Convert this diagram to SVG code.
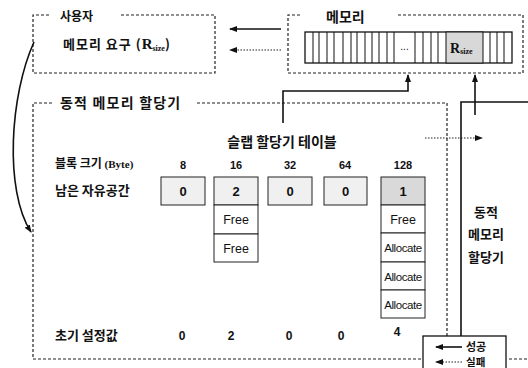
<svg xmlns="http://www.w3.org/2000/svg" width="528" height="368" viewBox="0 0 528 368">
<defs>
<marker id="ah" markerWidth="8" markerHeight="6" refX="7" refY="3" orient="auto" markerUnits="userSpaceOnUse"><path d="M0,0 L8,3 L0,6 Z" fill="#111"/></marker>
</defs>
<style>
.dash{fill:none;stroke:#222;stroke-width:1.2;stroke-dasharray:3 2}
.dot{fill:none;stroke:#222;stroke-width:1.2;stroke-dasharray:1.5 1.5}
.solid{fill:none;stroke:#111;stroke-width:1.6}
.ko{font-family:"Noto Sans CJK KR","Noto Sans",sans-serif;font-weight:bold;fill:#111}
.num{font-family:"Liberation Sans",Arial,sans-serif;fill:#111}
.ser{font-family:"Liberation Serif","Times New Roman",serif;font-weight:bold;fill:#111}
.cell{fill:#fff;stroke:#222;stroke-width:1}
.shade{fill:#f0f0f0;stroke:#222;stroke-width:1}
.dark{fill:#d9d9d9;stroke:#222;stroke-width:1}
.bar{stroke:#111;stroke-width:1}
</style>

<g id="user">
<path class="dash" d="M49,15 H33 V73 H215 V15 H120"/>
<text class="ko" x="60" y="21" font-size="12">사용자</text>
<text class="ko" x="63" y="49" font-size="13" letter-spacing="1">메모리 요구 (<tspan class="ser" font-size="15" letter-spacing="0">R</tspan><tspan class="ser" font-size="8" dy="2" letter-spacing="0">size</tspan><tspan dy="-2">)</tspan></text>
</g>

<g id="memory">
<path class="dash" d="M300,15 H288 V73 H523 V15 H397"/>
<text class="ko" x="326" y="22" font-size="14">메모리</text>
<rect x="305" y="32" width="207" height="31" fill="#fff" stroke="#111" stroke-width="1.3"/>
<rect x="446" y="32" width="37" height="31" fill="#d8d8d8" stroke="#111" stroke-width="1"/>
<g class="bar">
<line x1="313" y1="32" x2="313" y2="63"/><line x1="319" y1="32" x2="319" y2="63"/><line x1="327" y1="32" x2="327" y2="63"/><line x1="334" y1="32" x2="334" y2="63"/><line x1="343" y1="32" x2="343" y2="63"/><line x1="351" y1="32" x2="351" y2="63"/><line x1="357" y1="32" x2="357" y2="63"/><line x1="365" y1="32" x2="365" y2="63"/><line x1="372" y1="32" x2="372" y2="63"/><line x1="379" y1="32" x2="379" y2="63"/><line x1="387" y1="32" x2="387" y2="63"/><line x1="394" y1="32" x2="394" y2="63"/><line x1="415" y1="32" x2="415" y2="63"/><line x1="423" y1="32" x2="423" y2="63"/><line x1="431" y1="32" x2="431" y2="63"/><line x1="438" y1="32" x2="438" y2="63"/><line x1="490" y1="32" x2="490" y2="63"/><line x1="497" y1="32" x2="497" y2="63"/><line x1="504" y1="32" x2="504" y2="63"/>
</g>
<text class="num" x="404.5" y="50" font-size="10" text-anchor="middle">...</text>
<text class="ser" x="450" y="53" font-size="14">R<tspan font-size="8" dy="1">size</tspan></text>
</g>

<g id="allocator">
<path class="dash" d="M52,103 H33 V359 H424 M509,359 H530 M197,103 H447 V336"/>
<text class="ko" x="60" y="108" font-size="14" letter-spacing="1.2">동적 메모리 할당기</text>
</g>

<g id="slab-table">
<text class="ko" x="282" y="147" font-size="14" text-anchor="middle">슬랩 할당기 테이블</text>
<text class="ko" x="55" y="168" font-size="12">블록 크기 <tspan class="ser" font-size="11">(Byte)</tspan></text>
<text class="ko" x="55" y="195" font-size="13">남은 자유공간</text>
<text class="ko" x="55" y="340" font-size="13">초기 설정값</text>
<g class="num" font-size="11" text-anchor="middle" font-weight="bold">
<text x="183" y="169">8</text><text x="236" y="169">16</text><text x="290" y="169">32</text><text x="345" y="169">64</text><text x="403" y="169">128</text>
</g>
<rect class="shade" x="161" y="177" width="44" height="28"/>
<rect class="shade" x="214" y="177" width="44" height="28"/>
<rect class="cell" x="214" y="205" width="44" height="29"/>
<rect class="cell" x="214" y="234" width="44" height="28"/>
<rect class="shade" x="268" y="177" width="44" height="28"/>
<rect class="shade" x="324" y="177" width="43" height="28"/>
<rect class="dark" x="381" y="177" width="44" height="28"/>
<rect class="cell" x="381" y="205" width="44" height="28"/>
<rect class="cell" x="381" y="233" width="44" height="29"/>
<rect class="cell" x="381" y="262" width="44" height="28"/>
<rect class="cell" x="381" y="290" width="44" height="28"/>
<g class="num" font-size="13" text-anchor="middle" font-weight="bold">
<text x="183" y="196">0</text><text x="236" y="196">2</text><text x="290" y="196">0</text><text x="345.5" y="196">0</text><text x="403" y="196">1</text>
</g>
<g class="num" font-size="12.5" text-anchor="middle">
<text x="236" y="224">Free</text><text x="236" y="253">Free</text>
<text x="403" y="224">Free</text>
</g>
<g class="num" font-size="11.5" text-anchor="middle" letter-spacing="-0.4">
<text x="403" y="252">Allocate</text><text x="403" y="281">Allocate</text><text x="403" y="309">Allocate</text>
</g>
<g class="num" font-size="12" text-anchor="middle" font-weight="bold">
<text x="182" y="340">0</text><text x="231" y="340">2</text><text x="289" y="340">0</text><text x="341" y="340">0</text><text x="397" y="336">4</text>
</g>
</g>

<g id="dynamic-allocator">
<path class="solid" d="M461,336 V102 H530"/>
<g class="ko" font-size="13" text-anchor="middle">
<text x="486" y="217">동적</text><text x="486" y="239">메모리</text><text x="486" y="262">할당기</text>
</g>
</g>

<g id="result">
<rect x="423" y="336" width="83" height="40" fill="#fff" stroke="#111" stroke-width="1.3"/>
<text class="ko" x="466" y="351" font-size="11">성공</text>
<text class="ko" x="466" y="366" font-size="10.5">실패</text>
</g>

<g id="connectors">
<line class="solid" x1="281" y1="29" x2="230" y2="29" marker-end="url(#ah)" stroke-width="1.2"/>
<line class="dot" x1="281" y1="50" x2="230" y2="50" marker-end="url(#ah)"/>
<path class="solid" d="M34,42 C10,95 4,190 31,232" marker-end="url(#ah)"/>
<path class="solid" d="M283,123 V91 H408 V75" marker-end="url(#ah)"/>
<path class="solid" d="M475,115 V75" marker-end="url(#ah)"/>
<line class="dot" x1="425" y1="138" x2="482" y2="138" marker-end="url(#ah)"/>
<line class="solid" x1="462" y1="347" x2="436" y2="347" marker-end="url(#ah)" stroke-width="1.2"/>
<line class="dot" x1="462" y1="362" x2="436" y2="362" marker-end="url(#ah)"/>
</g>
</svg>
